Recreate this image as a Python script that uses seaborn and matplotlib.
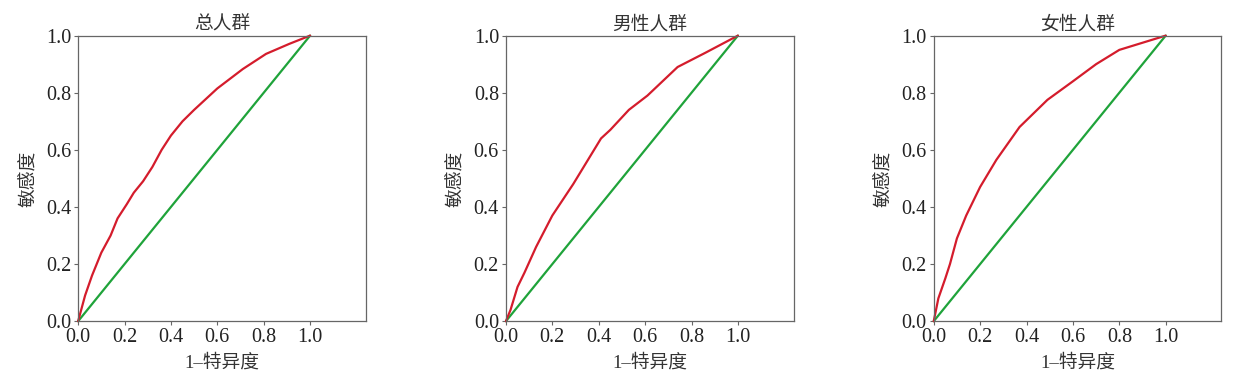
import matplotlib

matplotlib.use("Agg")

import matplotlib.pyplot as plt
import pandas as pd
import seaborn as sns

panel_titles = ["总人群", "男性人群", "女性人群"]

total_fpr = [0, 0.03, 0.06, 0.10, 0.14, 0.17, 0.21, 0.24, 0.28, 0.32, 0.36, 0.40, 0.45,
             0.50, 0.60, 0.71, 0.81, 0.91, 1.0]
total_tpr = [0, 0.09, 0.16, 0.24, 0.30, 0.36, 0.41, 0.45, 0.49, 0.54, 0.60, 0.65, 0.70,
             0.74, 0.815, 0.883, 0.936, 0.971, 1.0]

male_fpr = [0, 0.02, 0.05, 0.08, 0.13, 0.20, 0.29, 0.35, 0.41, 0.45, 0.53, 0.61, 0.74, 0.86, 1.0]
male_tpr = [0, 0.04, 0.12, 0.17, 0.26, 0.37, 0.48, 0.56, 0.64, 0.67, 0.74, 0.79, 0.89, 0.94, 1.0]

female_fpr = [0, 0.02, 0.05, 0.07, 0.10, 0.14, 0.20, 0.27, 0.37, 0.49, 0.60, 0.70, 0.80, 1.0]
female_tpr = [0, 0.08, 0.15, 0.20, 0.29, 0.37, 0.47, 0.565, 0.68, 0.775, 0.84, 0.90, 0.95, 1.0]

ref_line = [0, 1]
x_ticks = [0.0, 0.2, 0.4, 0.6, 0.8, 1.0]
y_ticks = [0.0, 0.2, 0.4, 0.6, 0.8, 1.0]

curves = [(total_fpr, total_tpr), (male_fpr, male_tpr), (female_fpr, female_tpr)]

sns.set_style("ticks")
plt.rcParams["font.family"] = ["Liberation Serif", "Noto Sans CJK SC"]
plt.rcParams["axes.unicode_minus"] = False

fig = plt.figure(figsize=(12.4, 3.87), dpi=100)
lefts = [0.063, 0.408, 0.753]

for left, title, (fpr, tpr) in zip(lefts, panel_titles, curves):
    ax = fig.add_axes([left, 0.17, 0.232, 0.738])
    roc_df = pd.DataFrame({"fpr": fpr, "tpr": tpr})
    ref_df = pd.DataFrame({"fpr": ref_line, "tpr": ref_line})
    sns.lineplot(data=ref_df, x="fpr", y="tpr", color="#1fa33a", linewidth=1.6,
                 ax=ax, clip_on=False)
    sns.lineplot(data=roc_df, x="fpr", y="tpr", color="#d41c2c", linewidth=1.6,
                 ax=ax, clip_on=False)
    ax.set_xlim(0, 1.24)
    ax.set_ylim(0, 1.0)
    ax.set_xticks(x_ticks)
    ax.set_yticks(y_ticks)
    ax.set_xticklabels([f"{t:.1f}" for t in x_ticks])
    ax.set_yticklabels([f"{t:.1f}" for t in y_ticks])
    ax.tick_params(labelsize=14.5, length=3, width=0.8, color="#666666",
                   labelcolor="#222222", pad=2)
    for spine in ax.spines.values():
        spine.set_visible(True)
        spine.set_color("#666666")
        spine.set_linewidth(0.9)
    ax.set_title(title, fontsize=13.5, color="#333333", pad=4)
    ax.set_xlabel("1–特异度", fontsize=13.5, color="#333333", labelpad=5)
    ax.set_ylabel("敏感度", fontsize=13.5, color="#333333", labelpad=6)

fig.savefig("out.png", dpi=100)
